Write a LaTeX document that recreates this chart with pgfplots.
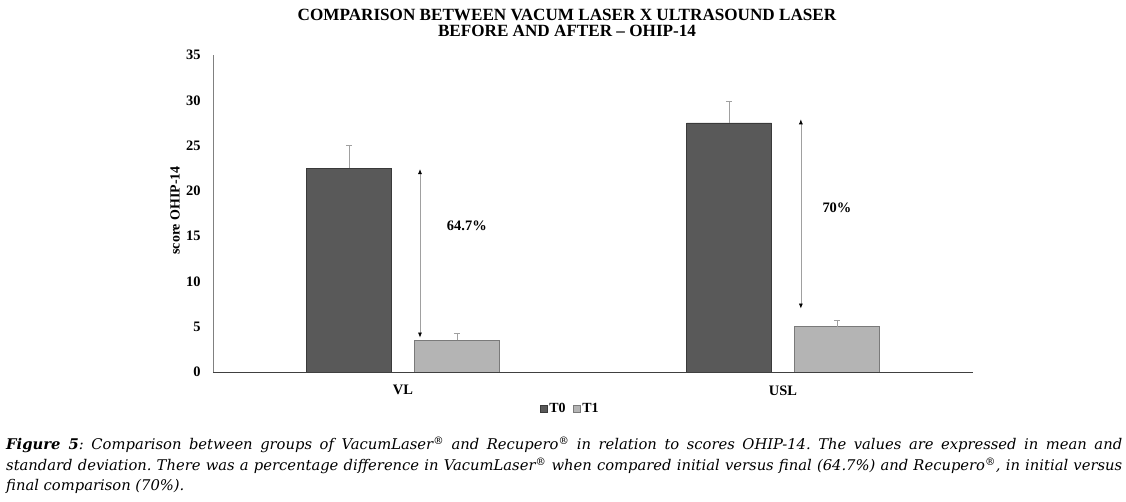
\documentclass[border=0pt]{standalone}
\usepackage{fontspec}
\setmainfont{Liberation Serif}
\newfontfamily\capfont{DejaVu Serif}
\usepackage{pgfplots}
\pgfplotsset{compat=1.18}
\usetikzlibrary{arrows.meta}
\definecolor{tzero}{HTML}{595959}
\definecolor{tzeroedge}{HTML}{3A3A3A}
\definecolor{tone}{HTML}{B4B4B4}
\definecolor{toneedge}{HTML}{7A7A7A}
\definecolor{errc}{HTML}{A0A0A0}
\frenchspacing
\begin{document}
\begin{tikzpicture}
\path[use as bounding box] (0,0) rectangle (1126bp,502bp);
\begin{axis}[
  at={(213bp,130bp)}, anchor=south west,
  scale only axis, width=760bp, height=317bp,
  xmin=-0.5, xmax=1.5, ymin=0, ymax=35,
  axis lines*=left,
  x axis line style={draw=black!75, line width=0.9pt},
  y axis line style={draw=black!50, line width=0.7pt},
  major tick length=0pt,
  ytick={0,5,...,35},
  xtick={0,1}, xticklabels={VL,USL},
  /pgf/number format/assume math mode=true,
  yticklabel style={font=\bfseries\fontsize{14.5}{14.5}\selectfont, xshift=-9bp},
  xticklabel style={font=\bfseries\fontsize{14.5}{14.5}\selectfont, yshift=-10bp},
  ylabel={score OHIP-14},
  ylabel style={font=\bfseries\fontsize{14}{14}\selectfont, at={(axis description cs:-0.05,0.51)}, anchor=center},
  ybar, bar width=85bp,
  legend columns=2,
  legend style={draw=none, at={(axis description cs:0.47,-0.117)}, anchor=center,
    font=\bfseries\fontsize{14}{14}\selectfont,
    /tikz/every even column/.append style={column sep=5bp}},
  legend image code/.code={\draw[#1] (0bp,-3.5bp) rectangle (7bp,3.5bp);},
  error bars/error bar style={draw=errc, line width=0.7pt},
  error bars/error mark=|,
  error bars/error mark options={draw=errc, mark size=3.2bp, line width=0.7pt},
]
\addplot[fill=tzero, draw=tzeroedge, line width=0.6pt, bar shift=-54bp,
  error bars/.cd, y dir=plus, y explicit]
  coordinates {(0,22.5) +- (0,2.5) (1,27.5) +- (0,2.4)};
\addplot[fill=tone, draw=toneedge, line width=0.6pt, bar shift=54bp,
  error bars/.cd, y dir=plus, y explicit]
  coordinates {(0,3.5) +- (0,0.8) (1,5.0) +- (0,0.7)};
\legend{T0,T1}
\draw[errc, line width=0.7pt, {Latex[black,length=5bp,width=4bp]}-{Latex[black,length=5bp,width=4bp]}]
  (axis cs:0.0447,22.4) -- (axis cs:0.0447,3.8);
\draw[errc, line width=0.7pt, {Latex[black,length=5bp,width=4bp]}-{Latex[black,length=5bp,width=4bp]}]
  (axis cs:1.047,27.9) -- (axis cs:1.047,7.0);
\node[font=\bfseries\fontsize{14.5}{14.5}\selectfont] at (axis cs:0.168,16.1) {64.7\%};
\node[font=\bfseries\fontsize{14.5}{14.5}\selectfont] at (axis cs:1.142,18.1) {70\%};
\end{axis}
\node[align=center, font=\bfseries\fontsize{17.2}{16}\selectfont] at (567bp,479bp)
  {COMPARISON BETWEEN VACUM LASER X ULTRASOUND LASER\\BEFORE AND AFTER -- OHIP-14};
\node[anchor=north west, inner sep=0pt, text width=1116bp, align=justify,
  font=\capfont\itshape\fontsize{14.8}{20.5}\selectfont] at (6bp,65bp)
  {\textbf{Figure 5}: Comparison between groups of VacumLaser\textsuperscript{®} and Recupero\textsuperscript{®} in relation to scores OHIP-14. The values are expressed in mean and\linebreak
  standard deviation. There was a percentage difference in VacumLaser\textsuperscript{®} when compared initial versus final (64.7\%) and Recupero\textsuperscript{®}, in initial versus\linebreak
  final comparison (70\%).};
\end{tikzpicture}
\end{document}
